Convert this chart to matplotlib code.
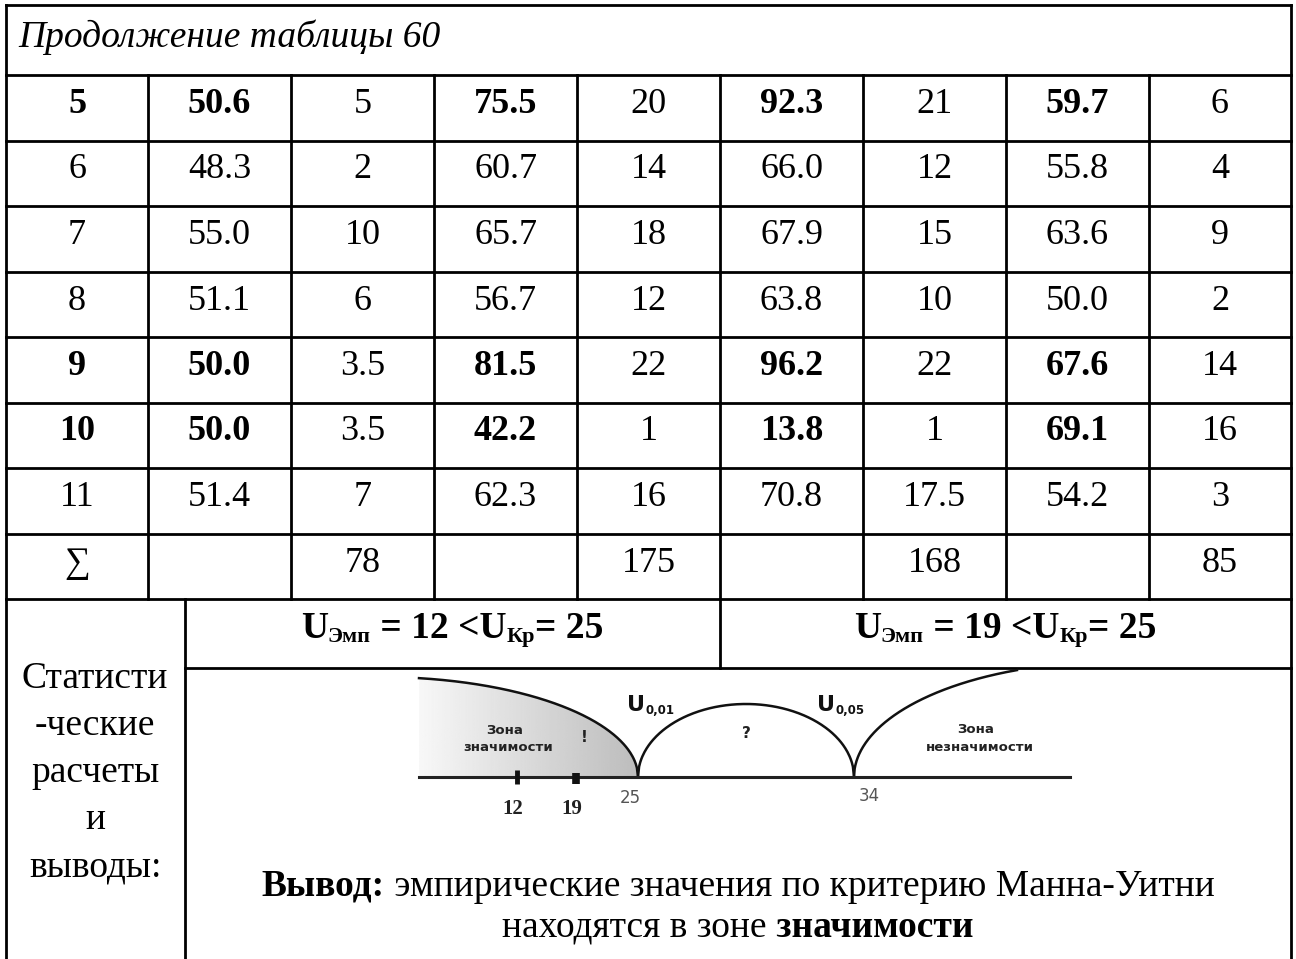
import numpy as np
import matplotlib
matplotlib.use("Agg")
import matplotlib.pyplot as plt
from matplotlib.patches import Polygon

# table data (continuation of table 60)
row_labels = ["5", "6", "7", "8", "9", "10", "11", "\u2211"]
values_1 = ["50.6", "48.3", "55.0", "51.1", "50.0", "50.0", "51.4", ""]
ranks_1 = ["5", "2", "10", "6", "3.5", "3.5", "7", "78"]
values_2 = ["75.5", "60.7", "65.7", "56.7", "81.5", "42.2", "62.3", ""]
ranks_2 = ["20", "14", "18", "12", "22", "1", "16", "175"]
values_3 = ["92.3", "66.0", "67.9", "63.8", "96.2", "13.8", "70.8", ""]
ranks_3 = ["21", "12", "15", "10", "22", "1", "17.5", "168"]
values_4 = ["59.7", "55.8", "63.6", "50.0", "67.6", "69.1", "54.2", ""]
ranks_4 = ["6", "4", "9", "2", "14", "16", "3", "85"]
bold_rows = [0, 4, 5]

u_emp = [12, 19]
u_crit = 25
crit_values = [25, 34]
crit_labels = ["0,01", "0,05"]

title = "Продолжение таблицы 60"
side_lines = ["Статисти", "-ческие", "расчеты", "и", "выводы:"]

SERIF = ["Liberation Serif", "DejaVu Serif"]
SANS = ["DejaVu Sans"]

fig = plt.figure(figsize=(12.96, 9.59), dpi=100)
ax = fig.add_axes([0, 0, 1, 1])
ax.set_xlim(0, 1296)
ax.set_ylim(959, 0)
ax.axis("off")
renderer = fig.canvas.get_renderer()

LW = 2.0
col_x = [6, 148, 291, 434, 577, 720, 863, 1006, 1149, 1291]
row_top = 75
row_h = 65.5
n_rows = len(row_labels)
table_bottom = row_top + row_h * n_rows
u_bottom = 668


def hline(y, x0, x1, lw=LW):
    ax.plot([x0, x1], [y, y], color="black", lw=lw, solid_capstyle="projecting")


def vline(x, y0, y1, lw=LW):
    ax.plot([x, x], [y0, y1], color="black", lw=lw, solid_capstyle="projecting")


def runs(cx, y, parts):
    # draw a line made of several text pieces, centered at cx (baseline y)
    texts = []
    for s, kw in parts:
        kw = dict(kw)
        dy = kw.pop("dy", 0)
        texts.append(ax.text(0, y + dy, s, va="baseline", ha="left", **kw))
    widths = [t.get_window_extent(renderer).width for t in texts]
    x = cx - sum(widths) / 2
    for t, w in zip(texts, widths):
        t.set_x(x)
        x += w


# frame
hline(5, 6, 1291)
vline(6, 5, 959)
vline(1291, 5, 959)
hline(row_top, 6, 1291)
for k in range(1, n_rows + 1):
    hline(row_top + row_h * k, 6, 1291)
for x in col_x[1:-1]:
    vline(x, row_top, table_bottom)
vline(185, table_bottom, 959)
vline(720, table_bottom, u_bottom)
hline(u_bottom, 185, 1291)

ax.text(18, 47, title, family=SERIF, style="italic", fontsize=27, va="baseline")

columns = [row_labels, values_1, ranks_1, values_2, ranks_2, values_3, ranks_3, values_4, ranks_4]
for c, col in enumerate(columns):
    cx = (col_x[c] + col_x[c + 1]) / 2
    for r, s in enumerate(col):
        bold = r in bold_rows and (c == 0 or c % 2 == 1)
        y = row_top + row_h * r + 26 + 12
        ax.text(cx, y, s, family=SERIF, fontsize=26, ha="center", va="baseline",
                fontweight="bold" if bold else "normal")

# U row
big = dict(family=SERIF, fontsize=27, fontweight="bold")
small = dict(family=SERIF, fontsize=16, fontweight="bold", dy=4)
for cx, u in zip([452, 1005], u_emp):
    runs(cx, 638, [("U", big), ("Эмп", small), (f" = {u} <U", big), ("Кр", small), (f"= {u_crit}", big)])

# left merged cell
for i, s in enumerate(side_lines):
    ax.text(95, 688 + 47 * i, s, family=SERIF, fontsize=27, ha="center", va="baseline")

# schematic diagram of the Mann-Whitney zones
axis_y = 777
scheme_u = [0, 12, 19, 25, 34, 45]
scheme_px = [419, 517, 576, 638, 854, 1070]


def sx(u):
    return np.interp(u, scheme_u, scheme_px)


c1, c2 = sx(crit_values[0]), sx(crit_values[1])
# left arc (significance zone)
a_l, b_l = 258, 100
xl = np.linspace(scheme_px[0], c1, 200)
yl = axis_y - b_l * np.sqrt(np.clip(1 - ((xl - (c1 - a_l)) / a_l) ** 2, 0, None))
grad = np.linspace(0.97, 0.74, 256)[None, :]
img = ax.imshow(grad, cmap="gray", vmin=0, vmax=1, extent=[xl[0], c1, axis_y, yl.min()],
                aspect="auto", zorder=1)
poly = Polygon(np.column_stack([np.r_[xl, c1, xl[0]], np.r_[yl, axis_y, axis_y]]),
               closed=True, facecolor="none", edgecolor="none")
ax.add_patch(poly)
img.set_clip_path(poly)
ax.set_xlim(0, 1296)
ax.set_ylim(959, 0)
ax.plot(xl, yl, color="#111111", lw=1.8, zorder=3)

# middle arc
xm = np.linspace(c1, c2, 200)
a_m, b_m = (c2 - c1) / 2, 73
ym = axis_y - b_m * np.sqrt(np.clip(1 - ((xm - (c1 + c2) / 2) / a_m) ** 2, 0, None))
ax.plot(xm, ym, color="#111111", lw=1.8, zorder=3)

# right arc (non-significance zone)
a_r, b_r = 258, 115
xr = np.linspace(c2, c2 + a_r, 400)
yr = axis_y - b_r * np.sqrt(np.clip(1 - ((xr - (c2 + a_r)) / a_r) ** 2, 0, None))
keep = yr >= u_bottom + 2
ax.plot(xr[keep], yr[keep], color="#111111", lw=1.8, zorder=3)

ax.plot([scheme_px[0], scheme_px[-1]], [axis_y, axis_y], color="#222222", lw=2.2, zorder=3)

# empirical marks
ax.plot([sx(u_emp[0])] * 2, [770, 784], color="#111111", lw=3.5, zorder=4, solid_capstyle="butt")
ax.plot([sx(u_emp[1])] * 2, [773, 784], color="#111111", lw=5.5, zorder=4, solid_capstyle="butt")
for u in u_emp:
    ax.text(sx(u) - 4, 814, str(u), family=SERIF, fontsize=15, fontweight="bold",
            color="#222222", ha="center", va="baseline")
ax.text(c1 - 8, 803, str(crit_values[0]), family=SANS, fontsize=12, color="#555555",
        ha="center", va="baseline")
ax.text(c2 + 15, 801, str(crit_values[1]), family=SANS, fontsize=12, color="#555555",
        ha="center", va="baseline")

for cx, lab in zip([c1 + 10, c2 - 16], crit_labels):
    ax.text(cx - 12, 711, "U", family=SANS, fontsize=16, fontweight="bold", color="#111111",
            ha="center", va="baseline")
    ax.text(cx - 2, 714, lab, family=SANS, fontsize=8.5, fontweight="bold", color="#111111",
            ha="left", va="baseline")

zone = dict(family=SANS, fontsize=9.5, fontweight="bold", color="#222222", ha="center", va="baseline")
ax.text(505, 734, "Зона", **zone)
ax.text(508, 751, "значимости", **zone)
ax.text(976, 733, "Зона", **zone)
ax.text(980, 751, "незначимости", **zone)
ax.text(584, 742, "!", family=SANS, fontsize=11, fontweight="bold", color="#222222", ha="center")
ax.text(746, 738, "?", family=SANS, fontsize=11, fontweight="bold", color="#222222", ha="center")

# conclusion
reg = dict(family=SERIF, fontsize=27)
bld = dict(family=SERIF, fontsize=27, fontweight="bold")
runs(738, 896, [("Вывод:", bld), (" эмпирические значения по критерию Манна-Уитни", reg)])
runs(738, 937, [("находятся в зоне", reg), (" значимости", bld)])

fig.savefig("out.png", dpi=100, facecolor="white")
